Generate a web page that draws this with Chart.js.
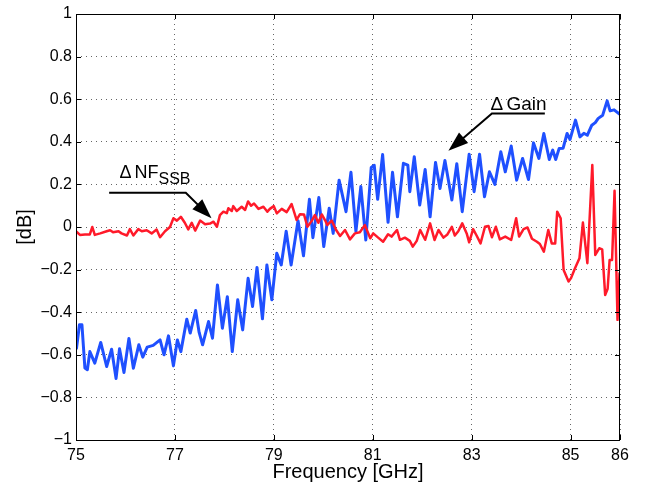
<!DOCTYPE html>
<html>
<head>
<meta charset="utf-8">
<script src="https://cdn.jsdelivr.net/npm/chart.js@4.4.1/dist/chart.umd.min.js"></script>
<style>
  html, body { margin: 0; padding: 0; background: #fff; }
</style>
</head>
<body>
<canvas id="chart" width="650" height="492"></canvas>
<script>
// Delta gain (blue): frequency [GHz] / value [dB]
const gainFreq = [75.01, 75.07, 75.12, 75.18, 75.23, 75.28, 75.38, 75.50, 75.62, 75.72,
  75.81, 75.88, 75.97, 76.07, 76.16, 76.27, 76.35, 76.44, 76.56, 76.70,
  76.78, 76.87, 76.97, 77.05, 77.12, 77.24, 77.31, 77.42, 77.49, 77.56,
  77.68, 77.76, 77.86, 77.96, 78.06, 78.16, 78.27, 78.37, 78.48, 78.57,
  78.66, 78.77, 78.86, 78.96, 79.06, 79.15, 79.25, 79.35, 79.49, 79.60,
  79.72, 79.79, 79.91, 80.01, 80.12, 80.20, 80.32, 80.46, 80.56, 80.66,
  80.76, 80.86, 80.97, 81.03, 81.10, 81.20, 81.31, 81.40, 81.50, 81.62,
  81.71, 81.75, 81.84, 81.95, 82.06, 82.16, 82.27, 82.36, 82.46, 82.60,
  82.70, 82.81, 82.95, 83.05, 83.16, 83.26, 83.36, 83.47, 83.59, 83.68,
  83.80, 83.91, 84.03, 84.15, 84.25, 84.36, 84.46, 84.57, 84.64, 84.70,
  84.77, 84.85, 84.93, 84.99, 85.10, 85.19, 85.27, 85.34, 85.43, 85.50,
  85.56, 85.65, 85.74, 85.80, 85.88, 85.99];
const gainDb = [-0.569, -0.459, -0.459, -0.662, -0.670, -0.585, -0.639, -0.542, -0.655, -0.574,
  -0.711, -0.572, -0.683, -0.523, -0.663, -0.553, -0.611, -0.564, -0.556, -0.530,
  -0.600, -0.511, -0.652, -0.530, -0.585, -0.433, -0.498, -0.392, -0.495, -0.553,
  -0.444, -0.522, -0.272, -0.475, -0.327, -0.585, -0.342, -0.483, -0.241, -0.373,
  -0.190, -0.431, -0.178, -0.342, -0.123, -0.178, -0.020, -0.178, 0.030, -0.135,
  0.130, -0.050, 0.138, -0.092, 0.088, -0.030, 0.220, 0.072, 0.257, -0.020,
  0.190, -0.061, 0.280, 0.290, 0.130, 0.340, 0.022, 0.257, 0.048, 0.299,
  0.290, 0.166, 0.330, 0.103, 0.270, 0.048, 0.303, 0.181, 0.312, 0.127,
  0.297, 0.072, 0.342, 0.166, 0.342, 0.142, 0.259, 0.200, 0.353, 0.259,
  0.380, 0.220, 0.322, 0.223, 0.395, 0.322, 0.439, 0.317, 0.361, 0.317,
  0.369, 0.370, 0.439, 0.411, 0.502, 0.423, 0.440, 0.431, 0.478, 0.490,
  0.510, 0.525, 0.592, 0.545, 0.550, 0.530];

// Delta NF SSB (red)
const nfFreq = [75.01, 75.08, 75.18, 75.28, 75.33, 75.38, 75.49, 75.62, 75.69, 75.75,
  75.86, 75.92, 76.03, 76.09, 76.16, 76.26, 76.33, 76.43, 76.53, 76.63,
  76.70, 76.80, 76.90, 76.97, 77.04, 77.12, 77.20, 77.27, 77.34, 77.41,
  77.51, 77.61, 77.71, 77.78, 77.85, 77.91, 77.98, 78.05, 78.08, 78.15,
  78.18, 78.25, 78.35, 78.42, 78.48, 78.54, 78.60, 78.69, 78.79, 78.87,
  78.92, 79.00, 79.06, 79.16, 79.26, 79.36, 79.46, 79.53, 79.61, 79.68,
  79.77, 79.83, 79.90, 79.97, 80.04, 80.08, 80.17, 80.26, 80.34, 80.44,
  80.54, 80.64, 80.74, 80.84, 80.95, 81.01, 81.11, 81.21, 81.31, 81.38,
  81.49, 81.55, 81.65, 81.75, 81.81, 81.89, 81.96, 82.06, 82.16, 82.25,
  82.33, 82.43, 82.51, 82.60, 82.66, 82.73, 82.81, 82.90, 82.95, 83.03,
  83.10, 83.18, 83.27, 83.34, 83.41, 83.49, 83.57, 83.68, 83.80, 83.90,
  83.96, 84.05, 84.13, 84.22, 84.32, 84.38, 84.46, 84.55, 84.62, 84.69,
  84.73, 84.80, 84.86, 84.96, 85.01, 85.09, 85.18, 85.25, 85.34, 85.44,
  85.50, 85.58, 85.64, 85.70, 85.75, 85.79, 85.84, 85.89, 85.95, 85.99];
const nfDb = [-0.022, -0.037, -0.035, -0.035, 0.000, -0.037, -0.030, -0.020, -0.015, -0.025,
  -0.020, -0.030, -0.040, -0.010, -0.040, -0.010, -0.020, -0.015, -0.030, -0.012,
  -0.048, -0.020, 0.000, 0.041, 0.030, 0.048, 0.020, -0.011, 0.020, -0.017,
  0.030, 0.013, 0.016, 0.025, 0.001, 0.056, 0.072, 0.065, 0.088, 0.075,
  0.098, 0.075, 0.095, 0.080, 0.120, 0.100, 0.110, 0.085, 0.095, 0.072,
  0.085, 0.098, 0.064, 0.085, 0.070, 0.108, 0.033, 0.060, 0.059, 0.001,
  0.030, 0.056, 0.020, 0.059, 0.030, 0.009, 0.030, -0.014, -0.042, -0.014,
  -0.058, -0.030, -0.025, 0.009, -0.053, -0.030, -0.050, -0.069, -0.034, -0.045,
  -0.014, -0.060, -0.050, -0.065, -0.092, -0.065, -0.014, -0.060, 0.017, -0.061,
  -0.014, -0.050, -0.035, 0.001, -0.040, -0.020, 0.017, -0.030, -0.072, -0.010,
  -0.040, -0.077, 0.001, 0.005, -0.048, 0.001, -0.058, -0.045, -0.061, 0.041,
  -0.045, -0.010, -0.002, -0.055, -0.069, -0.080, -0.116, -0.014, -0.077, -0.077,
  0.072, 0.041, -0.202, -0.256, -0.240, -0.194, -0.147, 0.021, -0.170, 0.291,
  -0.131, -0.100, -0.105, -0.319, -0.290, -0.155, -0.155, 0.170, -0.436, -0.217];

const xTicks = [75, 77, 79, 81, 83, 85, 86];

// arrow annotations, in data units
const gainNote = { text: 'Gain', line: [[84.48, 0.533], [83.41, 0.533], [82.53, 0.358]], at: [83.38, 0.548] };
const nfNote = { text: 'NF', sub: 'SSB', line: [[75.67, 0.161], [77.22, 0.161], [77.74, 0.041]], at: [75.88, 0.228] };

const FONT = "'Liberation Sans', Arial, Helvetica, sans-serif";

function fmtDb(v) {
  if (Math.abs(v) < 1e-9) return '0';
  let s = (Math.round(v * 10) / 10).toString();
  return s.replace('-', '\u2212');
}

function drawArrow(ctx, pts, headLen, headHalf) {
  const n = pts.length;
  const [tx, ty] = pts[n - 1];
  const [bx, by] = pts[n - 2];
  const ang = Math.atan2(ty - by, tx - bx);
  ctx.beginPath();
  ctx.moveTo(pts[0][0], pts[0][1]);
  for (let i = 1; i < n - 1; i++) ctx.lineTo(pts[i][0], pts[i][1]);
  ctx.lineTo(tx - Math.cos(ang) * headLen * 0.7, ty - Math.sin(ang) * headLen * 0.7);
  ctx.stroke();
  const cx = tx - Math.cos(ang) * headLen, cy = ty - Math.sin(ang) * headLen;
  ctx.beginPath();
  ctx.moveTo(tx, ty);
  ctx.lineTo(cx + Math.sin(ang) * headHalf, cy - Math.cos(ang) * headHalf);
  ctx.lineTo(cx - Math.sin(ang) * headHalf, cy + Math.cos(ang) * headHalf);
  ctx.closePath();
  ctx.fill();
}

const matlabFrame = {
  id: 'matlabFrame',
  afterDraw(chart) {
    const { ctx, chartArea: a, scales: { x, y } } = chart;
    ctx.save();
    ctx.strokeStyle = '#000';
    ctx.fillStyle = '#000';
    ctx.lineWidth = 1;
    ctx.strokeRect(a.left + 0.5, a.top + 0.5, a.right - a.left - 1, a.bottom - a.top);
    // inward tick marks on all four sides
    ctx.beginPath();
    xTicks.forEach(v => {
      const px = Math.round(x.getPixelForValue(v)) + 0.5;
      ctx.moveTo(px, a.bottom); ctx.lineTo(px, a.bottom - 5);
      ctx.moveTo(px, a.top); ctx.lineTo(px, a.top + 5);
    });
    y.ticks.forEach(t => {
      const py = Math.round(y.getPixelForValue(t.value)) + 0.5;
      ctx.moveTo(a.left, py); ctx.lineTo(a.left + 5, py);
      ctx.moveTo(a.right, py); ctx.lineTo(a.right - 5, py);
    });
    ctx.stroke();

    // annotations
    ctx.lineWidth = 2;
    const toPx = p => [x.getPixelForValue(p[0]), y.getPixelForValue(p[1])];
    drawArrow(ctx, gainNote.line.map(toPx), 20, 7);
    drawArrow(ctx, nfNote.line.map(toPx), 20, 7);

    ctx.textBaseline = 'alphabetic';
    ctx.textAlign = 'left';
    let [gx, gy] = toPx(gainNote.at);
    ctx.font = '19px ' + FONT;
    ctx.fillText('\u0394', gx, gy);
    ctx.fillText(gainNote.text, gx + 16, gy);

    let [nx, ny] = toPx(nfNote.at);
    ctx.font = '18px ' + FONT;
    ctx.fillText('\u0394', nx, ny);
    ctx.fillText(nfNote.text, nx + 15, ny);
    const w = ctx.measureText(nfNote.text).width;
    ctx.font = '16px ' + FONT;
    ctx.fillText(nfNote.sub, nx + 15 + w, ny + 6);
    ctx.restore();
  }
};

const toPoints = (xs, ys) => xs.map((v, i) => ({ x: v, y: ys[i] }));

new Chart(document.getElementById('chart'), {
  type: 'line',
  data: {
    datasets: [
      {
        label: '\u0394 NF SSB',
        data: toPoints(nfFreq, nfDb),
        borderColor: '#ff1a2a',
        borderWidth: 2.5,
        borderJoinStyle: 'round',
        borderCapStyle: 'round',
        pointRadius: 0,
        tension: 0,
        fill: false
      },
      {
        label: '\u0394 Gain',
        data: toPoints(gainFreq, gainDb),
        borderColor: '#1f50ff',
        borderWidth: 3,
        borderJoinStyle: 'round',
        borderCapStyle: 'round',
        pointRadius: 0,
        tension: 0,
        fill: false
      }
    ]
  },
  options: {
    responsive: false,
    animation: false,
    devicePixelRatio: 1,
    layout: { padding: { top: 14, right: 30, left: 0, bottom: 0 } },
    plugins: { legend: { display: false }, tooltip: { enabled: false } },
    scales: {
      x: {
        type: 'linear',
        min: 75,
        max: 86,
        afterBuildTicks: s => { s.ticks = xTicks.map(v => ({ value: v })); },
        afterFit: s => { s.height = 52; },
        grid: { color: '#666', lineWidth: 1, drawTicks: false },
        border: { display: false, dash: [1, 4] },
        ticks: { autoSkip: false, maxRotation: 0, padding: 6, color: '#000', font: { family: FONT, size: 16 } },
        title: { display: true, text: 'Frequency [GHz]', color: '#000', padding: { top: 0, bottom: 8 }, font: { family: FONT, size: 20 } }
      },
      y: {
        min: -1,
        max: 1,
        afterFit: s => { s.width = 76; },
        grid: { color: '#666', lineWidth: 1, drawTicks: false },
        border: { display: false, dash: [1, 4] },
        ticks: { stepSize: 0.2, padding: 4, color: '#000', font: { family: FONT, size: 16 }, callback: v => fmtDb(v) },
        title: { display: true, text: '[dB]', color: '#000', padding: { top: 13, bottom: 0 }, font: { family: FONT, size: 20 } }
      }
    }
  },
  plugins: [matlabFrame]
});
</script>
</body>
</html>
